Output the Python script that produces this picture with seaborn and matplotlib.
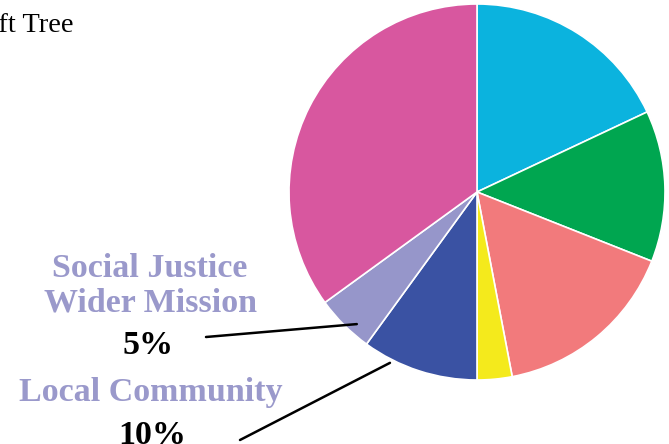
import numpy as np
import matplotlib
matplotlib.use("Agg")
import matplotlib.pyplot as plt
import seaborn as sns

# Slice data, clockwise from 12 o'clock
segments = ["Cyan", "Green", "Salmon", "Yellow", "Local Community",
            "Social Justice Wider Mission", "Pink"]
shares = [18, 13, 16, 3, 10, 5, 35]
colors = ["#0BB3DE", "#00A650", "#F27A7C", "#F4EA1C", "#3A52A3",
          "#9696CA", "#D8579F"]

# Labelled slices
label_text = ["Local Community", "Social Justice\nWider Mission"]
label_pct = ["10%", "5%"]
label_color = "#9A99CB"

sns.set_theme(style="white")
plt.rcParams['font.family'] = ['Liberation Serif', 'DejaVu Serif']

W, H = 669, 444
fig = plt.figure(figsize=(W / 100, H / 100), dpi=100)
ax = fig.add_axes([0, 0, 1, 1])

cx, cy, r = 477, H - 192, 188
wedges, _ = ax.pie(shares, colors=colors, startangle=90, counterclock=False,
                   center=(cx, cy), radius=r,
                   wedgeprops=dict(edgecolor="white", linewidth=1.2))
# pie() resets the limits, so set the pixel frame afterwards
ax.set_xlim(0, W)
ax.set_ylim(0, H)
ax.set_aspect('equal')
ax.axis('off')


def wedge_point(w, frac, rad):
    ang = np.deg2rad(w.theta1 + frac * (w.theta2 - w.theta1))
    return cx + rad * r * np.cos(ang), cy + rad * r * np.sin(ang)


fs = 24.5

# Social Justice / Wider Mission
sj = wedges[5]
ax.text(150, H - 286, label_text[1], ha='center', va='center', fontsize=fs,
        fontweight='bold', color=label_color, linespacing=1.15)
ax.text(148, H - 346, label_pct[1], ha='center', va='center', fontsize=fs,
        fontweight='bold', color='black')
x1, y1 = wedge_point(sj, 0.65, 0.95)
ax.plot([206, x1], [H - 337, y1], color='black', lw=1.8)

# Local Community
lc = wedges[4]
ax.text(151, H - 393, label_text[0], ha='center', va='center', fontsize=fs,
        fontweight='bold', color=label_color)
ax.text(152, H - 435, label_pct[0], ha='center', va='center', fontsize=fs,
        fontweight='bold', color='black')
x2, y2 = wedge_point(lc, 0.25, 1.02)
ax.plot([240, x2], [H - 440, y2], color='black', lw=1.8)

# Cropped heading at top left
ax.text(74, H - 32, "Gift Tree", ha='right', va='baseline', fontsize=20.5,
        color='black')

fig.savefig("out.png", dpi=100, facecolor='white')
